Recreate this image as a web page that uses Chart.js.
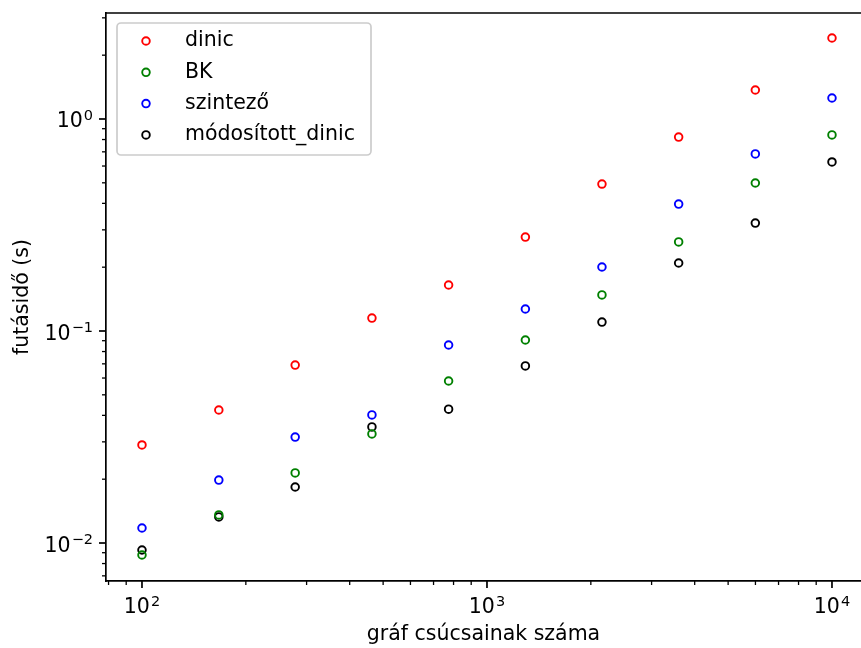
<!DOCTYPE html>
<html lang="hu">
<head>
    <meta charset="UTF-8">
    <title>Futásidő</title>
    <script src="https://cdn.jsdelivr.net/npm/chart.js"></script>
    <style>
        body { margin: 0; background: white; }
        #chart { display: block; }
    </style>
</head>
<body>
    <canvas id="chart" width="861" height="648"></canvas>

    <script>
        // gráf csúcsainak száma (logspace 10^2 .. 10^4)
        var nodes = [100, 167, 278, 464, 774, 1292, 2154, 3594, 5995, 10000];

        // futásidők (s), leolvasva
        var dinic = [0.0290, 0.0424, 0.0691, 0.1151, 0.1648, 0.2775, 0.4935, 0.822, 1.370, 2.41];
        var bk = [0.00878, 0.01356, 0.0214, 0.0327, 0.0581, 0.0907, 0.148, 0.263, 0.499, 0.841];
        var szintezo = [0.01177, 0.0198, 0.0316, 0.0402, 0.0859, 0.127, 0.2004, 0.397, 0.684, 1.256];
        var modDinic = [0.00927, 0.01327, 0.01837, 0.0353, 0.0428, 0.0684, 0.1102, 0.2093, 0.323, 0.627];

        var seriesNames = ["dinic", "BK", "szintező", "módosított_dinic"];
        var seriesColors = ["#ff0000", "#008000", "#0000ff", "#000000"];

        var xRange = [78.65, 12137];
        var yRange = [0.006619, 3.162];

        // exponent of a power of ten, or null for minor ticks
        function powExp(v) {
            var e = Math.round(Math.log10(v));
            return Math.abs(Math.log10(v) - e) > 1e-6 ? null : e;
        }

        // 1..9 x 10^n ticks inside the range
        function logTicks(min, max) {
            var out = [];
            for (var e = Math.floor(Math.log10(min)); e <= Math.ceil(Math.log10(max)); e++) {
                for (var m = 1; m <= 9; m++) {
                    var v = m * Math.pow(10, e);
                    if (v >= min && v <= max) out.push({ value: v });
                }
            }
            return out;
        }

        var seriesData = [dinic, bk, szintezo, modDinic];
        var datasets = seriesData.map((vals, i) => ({
            label: seriesNames[i],
            data: nodes.map((x, j) => ({ x: x, y: vals[j] })),
            borderColor: seriesColors[i],
            backgroundColor: "rgba(0,0,0,0)",
            pointRadius: 3.8,
            pointBorderWidth: 1.9,
            pointHoverRadius: 3.8
        }));

        var BASE_FONT = "20.5px 'DejaVu Sans'";
        var SUP_FONT = "14.5px 'DejaVu Sans'";

        // draws "10" with a raised exponent; anchor: "center" (x axis) or "right" (y axis)
        function drawPow(ctx, e, x, yTop, anchor) {
            var expText = String(e).replace("-", "\u2212");
            ctx.font = BASE_FONT;
            var wb = ctx.measureText("10").width;
            ctx.font = SUP_FONT;
            var we = ctx.measureText(expText).width;
            var total = wb + we + 1;
            var x0 = anchor === "center" ? x - total / 2 : x - total;
            ctx.textBaseline = "alphabetic";
            ctx.textAlign = "left";
            ctx.font = BASE_FONT;
            ctx.fillText("10", x0, yTop + 15);
            ctx.font = SUP_FONT;
            ctx.fillText(expText, x0 + wb + 1, yTop + 7.5);
        }

        // tick marks, tick labels, top spine and inside legend
        var framePlugin = {
            id: "frame",
            afterDraw(chart) {
                var ctx = chart.ctx, a = chart.chartArea;
                ctx.save();
                ctx.strokeStyle = "#000";
                ctx.fillStyle = "#000";
                ["x", "y"].forEach(id => {
                    var s = chart.scales[id];
                    s.ticks.forEach(t => {
                        var e = powExp(t.value);
                        var major = e !== null;
                        var len = major ? 7 : 4;
                        ctx.lineWidth = major ? 1.7 : 1.3;
                        var p = s.getPixelForValue(t.value);
                        ctx.beginPath();
                        if (id === "x") {
                            ctx.moveTo(p, a.bottom);
                            ctx.lineTo(p, a.bottom + len);
                        } else {
                            ctx.moveTo(a.left, p);
                            ctx.lineTo(a.left - len, p);
                        }
                        ctx.stroke();
                        if (major) {
                            if (id === "x") drawPow(ctx, e, p, a.bottom + 17, "center");
                            else drawPow(ctx, e, a.left - 13, p - 6.5, "right");
                        }
                    });
                });
                ctx.lineWidth = 1.7;
                ctx.beginPath();
                ctx.moveTo(a.left, a.top);
                ctx.lineTo(a.right, a.top);
                ctx.stroke();

                // legend
                var lx = a.left + 11, ly = a.top + 10, lw = 254, lh = 132;
                ctx.fillStyle = "rgba(255,255,255,0.8)";
                ctx.strokeStyle = "#cccccc";
                ctx.lineWidth = 1.7;
                ctx.beginPath();
                ctx.roundRect(lx, ly, lw, lh, 4);
                ctx.fill();
                ctx.stroke();
                ctx.font = BASE_FONT;
                ctx.textBaseline = "middle";
                ctx.textAlign = "left";
                chart.data.datasets.forEach((d, i) => {
                    var cy = ly + 18 + i * 31.3;
                    ctx.strokeStyle = d.borderColor;
                    ctx.lineWidth = 1.9;
                    ctx.beginPath();
                    ctx.arc(lx + 29, cy, 3.8, 0, Math.PI * 2);
                    ctx.stroke();
                    ctx.fillStyle = "#000";
                    ctx.fillText(d.label, lx + 68, cy);
                });
                ctx.restore();
            }
        };

        function noPad(s) {
            s.paddingTop = 0; s.paddingBottom = 0;
            s.paddingLeft = 0; s.paddingRight = 0;
        }

        Chart.defaults.font.family = "'DejaVu Sans'";
        Chart.defaults.font.size = 20.5;
        Chart.defaults.color = "#000";

        new Chart(document.getElementById("chart"), {
            type: "scatter",
            data: { datasets: datasets },
            options: {
                responsive: false,
                animation: false,
                devicePixelRatio: 1,
                layout: { autoPadding: false, padding: { top: 13, right: 0, left: 0, bottom: 0 } },
                plugins: { legend: { display: false }, tooltip: { enabled: false } },
                scales: {
                    x: {
                        type: "logarithmic",
                        min: xRange[0],
                        max: xRange[1],
                        bounds: "data",
                        afterBuildTicks: s => { s.ticks = logTicks(xRange[0], xRange[1]); },
                        afterFit: s => { s.height = 67; noPad(s); },
                        grid: { display: false, drawTicks: true, tickLength: 7 },
                        border: { display: true, color: "#000", width: 1.7 },
                        ticks: { display: false },
                        title: {
                            display: true, text: "gráf csúcsainak száma",
                            padding: { top: 0, bottom: 1 }
                        }
                    },
                    y: {
                        type: "logarithmic",
                        min: yRange[0],
                        max: yRange[1],
                        bounds: "data",
                        afterBuildTicks: s => { s.ticks = logTicks(yRange[0], yRange[1]); },
                        afterFit: s => { s.width = 106; noPad(s); },
                        grid: { display: false, drawTicks: true, tickLength: 7 },
                        border: { display: true, color: "#000", width: 1.7 },
                        ticks: { display: false },
                        title: {
                            display: true, text: "futásidő (s)",
                            padding: { top: 10, bottom: 0 }
                        }
                    }
                }
            },
            plugins: [framePlugin]
        });
    </script>
</body>
</html>
